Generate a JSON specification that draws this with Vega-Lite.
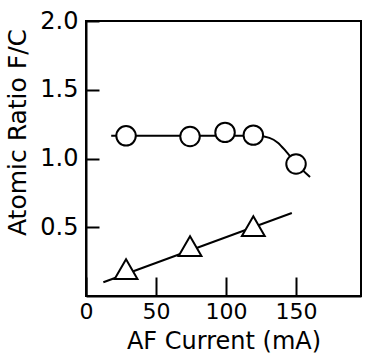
{
  "$schema": "https://vega.github.io/schema/vega-lite/v6.json",
  "width": 275,
  "height": 275,
  "autosize": {"type": "none"},
  "padding": {"left": 86, "top": 21, "right": 4, "bottom": 57},
  "background": "white",
  "config": {
    "view": {"stroke": "black", "strokeWidth": 2},
    "font": "DejaVu Sans",
    "axis": {
      "domainColor": "black", "domainWidth": 2,
      "tickColor": "black", "tickWidth": 2,
      "labelColor": "black", "titleColor": "black",
      "grid": false,
      "labelFont": "DejaVu Sans", "titleFont": "DejaVu Sans",
      "titleFontWeight": "normal"
    }
  },
  "datasets": {
    "circleLine": [
      {"x": 18, "y": 1.165}, {"x": 122, "y": 1.165}, {"x": 131, "y": 1.15},
      {"x": 137, "y": 1.115}, {"x": 143, "y": 1.05}, {"x": 150, "y": 0.965},
      {"x": 160, "y": 0.865}
    ],
    "triLine": [
      {"x": 12.4, "y": 0.1}, {"x": 147, "y": 0.604}
    ],
    "circles": [
      {"x": 28.6, "y": 1.165}, {"x": 74.3, "y": 1.16}, {"x": 99.3, "y": 1.19},
      {"x": 119.5, "y": 1.17}, {"x": 150, "y": 0.96}
    ],
    "triangles": [
      {"x": 28.6, "y": 0.195}, {"x": 74.3, "y": 0.363}, {"x": 119.5, "y": 0.509}
    ]
  },
  "encoding": {
    "x": {
      "field": "x", "type": "quantitative",
      "scale": {"domain": [0, 196.4], "nice": false, "zero": false},
      "axis": {
        "values": [0, 50, 100, 150], "tickSize": -19, "labelPadding": 24,
        "labelFontSize": 22, "labelFlush": false, "labelOverlap": false,
        "title": "AF Current (mA)", "titleFontSize": 24,
        "titleY": 52, "titleBaseline": "alphabetic"
      }
    },
    "y": {
      "field": "y", "type": "quantitative",
      "scale": {"domain": [0, 2], "nice": false, "zero": false},
      "axis": {
        "values": [0.5, 1, 1.5, 2], "format": ".1f", "tickSize": -13,
        "labelPadding": 21, "labelFontSize": 24, "labelFlush": false,
        "labelOverlap": false,
        "title": "Atomic Ratio F/C", "titleFontSize": 25, "titleAngle": -90,
        "titleX": -61, "titleY": 111, "titleAlign": "center",
        "titleBaseline": "alphabetic"
      }
    }
  },
  "layer": [
    {
      "data": {"name": "circleLine"},
      "mark": {"type": "line", "color": "black", "strokeWidth": 2, "interpolate": "monotone"}
    },
    {
      "data": {"name": "triLine"},
      "mark": {"type": "line", "color": "black", "strokeWidth": 2}
    },
    {
      "data": {"name": "circles"},
      "mark": {"type": "point", "shape": "circle", "size": 380, "filled": false, "fill": "white", "fillOpacity": 1, "stroke": "black", "strokeWidth": 2, "opacity": 1}
    },
    {
      "data": {"name": "triangles"},
      "mark": {"type": "point", "shape": "triangle-up", "size": 520, "filled": false, "fill": "white", "fillOpacity": 1, "stroke": "black", "strokeWidth": 2, "opacity": 1}
    }
  ]
}
